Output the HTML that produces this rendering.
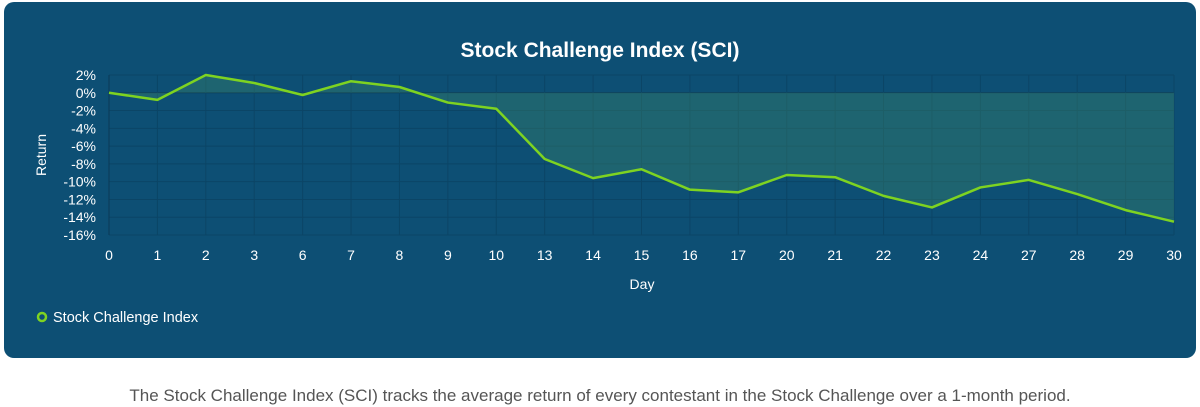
<!DOCTYPE html>
<html><head><meta charset="utf-8"><style>
html,body{margin:0;padding:0;background:#fff;width:1200px;height:407px;overflow:hidden;font-family:"Liberation Sans",Arial,sans-serif}
#card{position:absolute;left:4px;top:2px;width:1192px;height:356px;background:#0d4f74;border-radius:10px}
#caption{position:absolute;left:0;top:386px;width:1200px;text-align:center;font-size:17px;color:#555}
svg{position:absolute;left:0;top:0}
</style></head><body>
<div id="card"></div>
<svg id="chart" width="1200" height="360"></svg>
<div id="caption">The Stock Challenge Index (SCI) tracks the average return of every contestant in the Stock Challenge over a 1-month period.</div>
<script>
const categories = ["0","1","2","3","6","7","8","9","10","13","14","15","16","17","20","21","22","23","24","27","28","29","30"];
const values = [0,-0.8,2.0,1.1,-0.25,1.3,0.65,-1.1,-1.8,-7.45,-9.6,-8.6,-10.9,-11.2,-9.25,-9.5,-11.6,-12.9,-10.65,-9.8,-11.4,-13.2,-14.5];
const yTicks = [2,0,-2,-4,-6,-8,-10,-12,-14,-16];

const NS = "http://www.w3.org/2000/svg";
const svg = document.getElementById("chart");
const X0 = 109, X1 = 1174, Y0 = 75, Y1 = 235, yMax = 2, yMin = -16;
const xs = i => X0 + (X1 - X0) * i / (categories.length - 1);
const ys = v => Y0 + (yMax - v) / (yMax - yMin) * (Y1 - Y0);
function mk(tag, attrs, parent) {
  const e = document.createElementNS(NS, tag);
  for (const k in attrs) e.setAttribute(k, attrs[k]);
  (parent || svg).appendChild(e);
  return e;
}
let t = mk("text", {x: 600, y: 57, "text-anchor": "middle", fill: "#fff", "font-size": 21, "font-weight": "bold"});


t.textContent = "Stock Challenge Index (SCI)";

yTicks.forEach(v => {
  const l = mk("line", {x1: X0, x2: X1, y1: ys(v), y2: ys(v), stroke: v === 0 ? "#0a3a56" : "#0b4566", "stroke-width": 1});
  
  
  const tx = mk("text", {x: 96, y: ys(v) + 5, "text-anchor": "end", fill: "#fff", "font-size": 14});
  
  
  tx.textContent = v + "%";
});
categories.forEach((c, i) => {
  const l = mk("line", {x1: xs(i), x2: xs(i), y1: Y0, y2: Y1, stroke: "#0b4566", "stroke-width": 1});
  
  
  const tx = mk("text", {x: xs(i), y: 260, "text-anchor": "middle", fill: "#fff", "font-size": 14});
  
  
  tx.textContent = c;
});
const ax = mk("line", {x1: X0, x2: X0, y1: Y0, y2: Y1, stroke: "#0a3a56", "stroke-width": 1});



let pts = values.map((v, i) => xs(i) + "," + ys(v)).join(" ");
const area = mk("polygon", {points: xs(0) + "," + ys(0) + " " + pts + " " + xs(values.length - 1) + "," + ys(0), fill: "#3f8c6a", "fill-opacity": 0.35});


const line = mk("polyline", {points: pts, fill: "none", stroke: "#7ed321", "stroke-width": 2.5, "stroke-linejoin": "round"});



let yt = mk("text", {x: 46, y: 155, "text-anchor": "middle", fill: "#fff", "font-size": 14, transform: "rotate(-90 46 155)"});


yt.textContent = "Return";
let xt = mk("text", {x: 642, y: 289, "text-anchor": "middle", fill: "#fff", "font-size": 14});


xt.textContent = "Day";

const lg = mk("g", {});


mk("circle", {cx: 42, cy: 317, r: 4, fill: "none", stroke: "#7ed321", "stroke-width": 2.5}, lg);
const lt = mk("text", {x: 53, y: 322, fill: "#fff", "font-size": 14.5}, lg);
lt.textContent = "Stock Challenge Index";
</script>
</body></html>
